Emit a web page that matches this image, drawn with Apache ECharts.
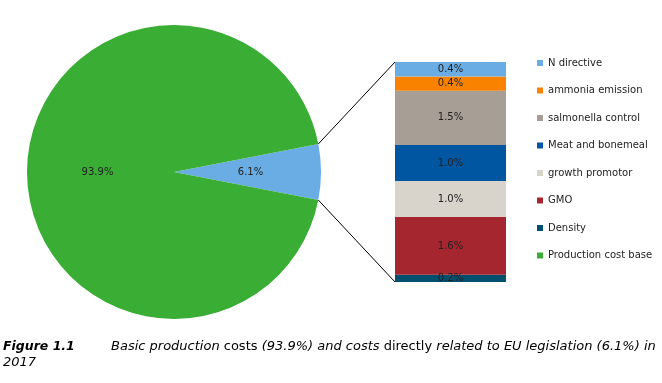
<!DOCTYPE html>
<html>
<head>
<meta charset="utf-8">
<script src="https://cdn.jsdelivr.net/npm/echarts@6/dist/echarts.min.js"></script>
<style>
html,body{margin:0;padding:0;background:#fff;}
#c{width:662px;height:383px;}
</style>
</head>
<body>
<div id="c"></div>
<script>
// ---- data ----
const pieNames = ['EU legislation', 'Production cost base'];
const pieValues = [6.1, 93.9];
const legNames = ['Density', 'GMO', 'growth promotor', 'Meat and bonemeal', 'salmonella control', 'ammonia emission', 'N directive'];
const legValues = [0.2, 1.6, 1.0, 1.0, 1.5, 0.4, 0.4];
const legendOrder = ['N directive', 'ammonia emission', 'salmonella control', 'Meat and bonemeal', 'growth promotor', 'GMO', 'Density', 'Production cost base'];

// ---- styles ----
const legColors = {
  'Density': '#004f6e',
  'GMO': '#a6262f',
  'growth promotor': '#d8d4cb',
  'Meat and bonemeal': '#0056a0',
  'salmonella control': '#a79f96',
  'ammonia emission': '#f98200',
  'N directive': '#6aade4'
};
const pieColors = ['#6aade4', '#39ad34'];
const FONT = 'DejaVu Sans';

const pieCenter = [174, 172];
const pieR = 147;
const grid = {left: 395, top: 62, width: 111, height: 220};

const total = legValues.reduce((a, b) => a + b, 0);
const pieSum = pieValues.reduce((a, b) => a + b, 0);
const halfAngle = pieValues[0] / pieSum * 180;

const chart = echarts.init(document.getElementById('c'));

const barSeries = legNames.map((n, i) => ({
  name: n,
  type: 'bar',
  stack: 'leg',
  barWidth: '100%',
  xAxisIndex: 0, yAxisIndex: 0,
  itemStyle: {color: legColors[n]},
  label: {show: true, position: 'inside', fontFamily: FONT, fontSize: 10, color: '#222',
    formatter: p => p.value.toFixed(1) + '%'},
  emphasis: {disabled: true},
  data: [legValues[i]]
}));

const capBase = {fontFamily: FONT, fontSize: 13, fontWeight: 'normal', color: '#000'};

chart.setOption({
  animation: false,
  title: [
    {text: 'Figure 1.1', left: 3, top: 340, padding: 0,
      textStyle: {fontFamily: FONT, fontSize: 12.5, fontWeight: 'bold', fontStyle: 'italic', color: '#000'}},
    {text: '{i|Basic production }{n|costs}{i| (93.9%) and costs }{n|directly}{i| related to EU legislation (6.1%) in}',
      left: 111, top: 340, padding: 0,
      textStyle: {fontWeight: 'normal', fontFamily: FONT, fontSize: 13, rich: {
        i: Object.assign({fontStyle: 'italic'}, capBase),
        n: Object.assign({fontStyle: 'normal'}, capBase)
      }}},
    {text: '2017', left: 3, top: 356, padding: 0,
      textStyle: Object.assign({fontStyle: 'italic'}, capBase)}
  ],
  legend: {
    orient: 'vertical', left: 537, top: 57, icon: 'rect', padding: 0,
    itemWidth: 6, itemHeight: 6, itemGap: 15.5, itemTextGap: 1,
    selectedMode: false,
    textStyle: {fontFamily: FONT, fontSize: 10, color: '#222', lineHeight: 12},
    data: legendOrder
  },
  grid: Object.assign({containLabel: false}, grid),
  xAxis: {type: 'category', data: ['legislation'], show: false},
  yAxis: {type: 'value', min: 0, max: total, show: false},
  series: [
    {
      type: 'pie',
      center: pieCenter,
      radius: pieR,
      startAngle: halfAngle,
      clockwise: true,
      avoidLabelOverlap: false,
      emphasis: {disabled: true},
      label: {show: true, position: 'inside', fontFamily: FONT, fontSize: 10, color: '#222',
        formatter: p => p.value.toFixed(1) + '%'},
      labelLine: {show: false},
      itemStyle: {borderWidth: 0},
      data: pieNames.map((n, i) => ({name: n, value: pieValues[i], itemStyle: {color: pieColors[i]}}))
    }
  ].concat(barSeries)
});

// connecting lines from slice edges to the bar stack
const yTop = chart.convertToPixel({yAxisIndex: 0}, total);
const yBot = chart.convertToPixel({yAxisIndex: 0}, 0);
const a = halfAngle * Math.PI / 180;
const p1 = [pieCenter[0] + pieR * Math.cos(a), pieCenter[1] - pieR * Math.sin(a)];
const p2 = [pieCenter[0] + pieR * Math.cos(a), pieCenter[1] + pieR * Math.sin(a)];
chart.setOption({
  graphic: [
    {type: 'line', shape: {x1: p1[0], y1: p1[1], x2: grid.left, y2: yTop}, style: {stroke: '#000', lineWidth: 1}},
    {type: 'line', shape: {x1: p2[0], y1: p2[1], x2: grid.left, y2: yBot}, style: {stroke: '#000', lineWidth: 1}}
  ]
});
</script>
</body>
</html>
